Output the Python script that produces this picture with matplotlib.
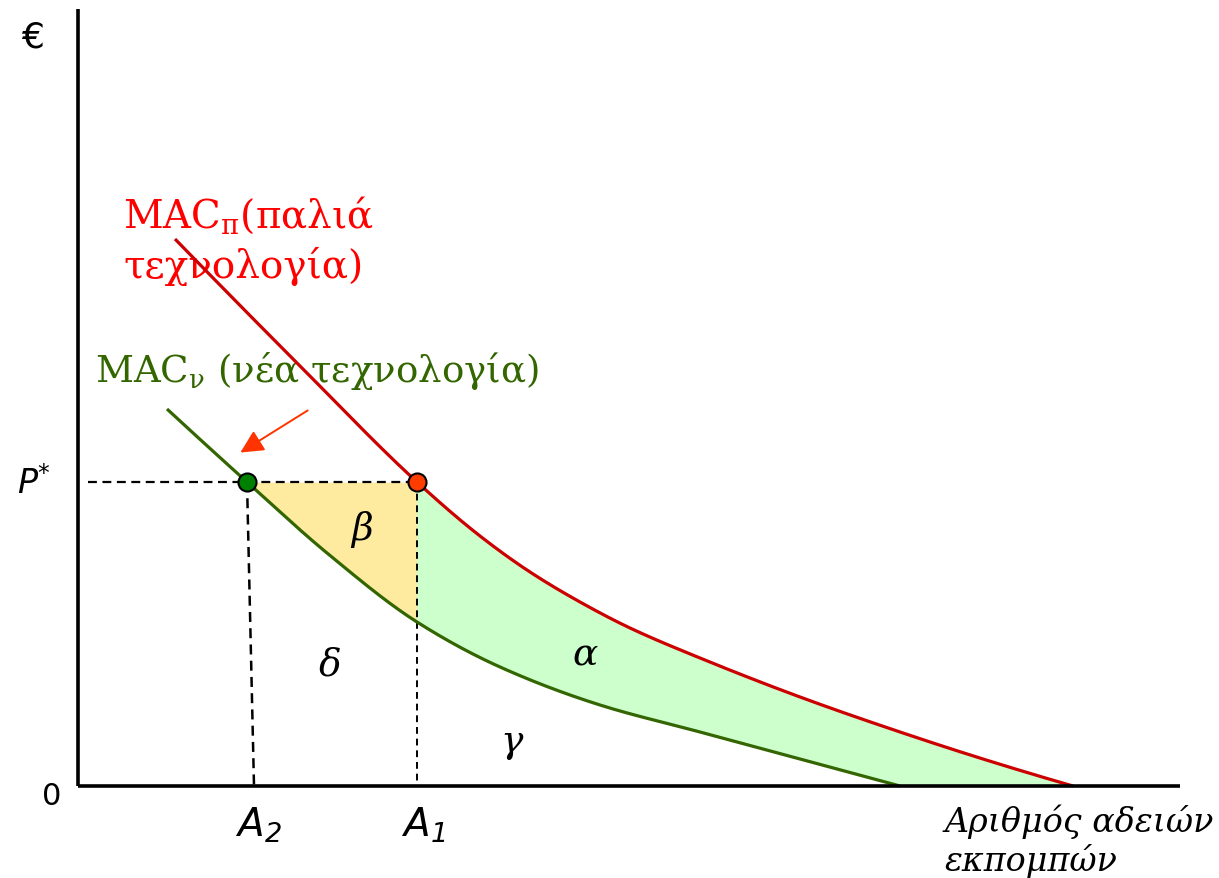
import matplotlib
matplotlib.use("Agg")
import matplotlib.pyplot as plt
import numpy as np
from matplotlib.patches import FancyArrowPatch

# ---- data (abstract units: quantity of permits, price in euros) ----
red_x = [9.7, 22.2, 33.9, 40.2, 45.2, 50.2, 55.2, 62.2, 72.2, 82.2, 90.5, 99.5]
red_y = [54.7, 42.0, 30.4, 25.0, 21.4, 18.4, 15.8, 12.8, 8.9, 5.4, 2.7, 0.0]
green_x = [8.9, 16.9, 24.9, 33.9, 42.2, 52.2, 62.2, 72.2, 82.2]
green_y = [37.7, 30.4, 23.3, 16.4, 11.9, 8.1, 5.4, 2.7, 0.0]
P_star = 30.4
A2 = 16.9
A2_base = 17.6
A1 = 33.9
red_label = ["MAC$_\\mathregular{π}$(παλιά", "τεχνολογία)"]
green_label = "MAC$_\\mathregular{ν}$ (νέα τεχνολογία)"
x_label = ["Αριθμός αδειών", "εκπομπών"]
area_labels = {"β": (28.4, 25.7), "δ": (25.2, 12.2), "α": (50.7, 13.2), "γ": (43.4, 4.5)}

RED = "#CC0000"
GREEN = "#336600"
YELLOW = "#FFEBA0"
LIGHTGREEN = "#CCFFCC"


def smooth(xs, ys, n=30):
    """Monotone cubic (PCHIP) through the read points, for drawing only."""
    x = np.asarray(xs, float)
    y = np.asarray(ys, float)
    h = np.diff(x)
    dl = np.diff(y) / h
    d = np.zeros_like(x)
    for k in range(1, len(x) - 1):
        if dl[k - 1] * dl[k] > 0:
            w1 = 2 * h[k] + h[k - 1]
            w2 = h[k] + 2 * h[k - 1]
            d[k] = (w1 + w2) / (w1 / dl[k - 1] + w2 / dl[k])

    def end(h0, h1, d0, d1):
        v = ((2 * h0 + h1) * d0 - h0 * d1) / (h0 + h1)
        if np.sign(v) != np.sign(d0):
            v = 0.0
        elif np.sign(d0) != np.sign(d1) and abs(v) > abs(3 * d0):
            v = 3 * d0
        return v

    d[0] = end(h[0], h[1], dl[0], dl[1])
    d[-1] = end(h[-1], h[-2], dl[-1], dl[-2])
    ox, oy = [], []
    for k in range(len(x) - 1):
        t = np.linspace(0, 1, n, endpoint=False)
        h00 = 2 * t ** 3 - 3 * t ** 2 + 1
        h10 = t ** 3 - 2 * t ** 2 + t
        h01 = -2 * t ** 3 + 3 * t ** 2
        h11 = t ** 3 - t ** 2
        ox.append(x[k] + t * h[k])
        oy.append(h00 * y[k] + h10 * h[k] * d[k] + h01 * y[k + 1] + h11 * h[k] * d[k + 1])
    ox.append([x[-1]])
    oy.append([y[-1]])
    return np.concatenate(ox), np.concatenate(oy)


rx, ry = smooth(red_x, red_y)
gx, gy = smooth(green_x, green_y)

fig = plt.figure(figsize=(12.19, 8.79), dpi=100)
ax = fig.add_axes([0, 0, 1, 1])
ax.set_xlim(-7.8, 114.1)
ax.set_ylim(-9.2, 78.7)
ax.axis("off")

# fills
m = (gx >= A2 - 1e-9) & (gx <= A1 + 1e-9)
ax.fill_between(gx[m], gy[m], P_star, color=YELLOW, lw=0, zorder=1)

mr = rx >= A1 - 1e-9
mg = gx >= A1 - 1e-9
poly_x = np.concatenate([rx[mr], gx[mg][::-1]])
poly_y = np.concatenate([ry[mr], gy[mg][::-1]])
ax.fill(poly_x, poly_y, color=LIGHTGREEN, lw=0, zorder=1)

# axes lines
ax.plot([0, 0], [0, 77.7], color="black", lw=2.6, solid_capstyle="butt", zorder=5)
ax.plot([0, 110.2], [0, 0], color="black", lw=2.6, solid_capstyle="butt", zorder=5)

# dashed guides
ax.plot([1.0, A1], [P_star, P_star], color="black", lw=1.6, dashes=(4, 2.5), zorder=3)
ax.plot([A2, A2_base], [P_star, 0], color="black", lw=1.8, dashes=(4, 2.5), zorder=3)
ax.plot([A1, A1], [P_star, 0], color="black", lw=1.4, dashes=(3.5, 2.5), zorder=3)

# curves
ax.plot(rx, ry, color=RED, lw=2.3, zorder=4, solid_capstyle="butt")
ax.plot(gx, gy, color=GREEN, lw=2.3, zorder=4, solid_capstyle="butt")

# points
ax.plot([A2], [P_star], "o", ms=13, mfc="#008000", mec="black", mew=1.5, zorder=6)
ax.plot([A1], [P_star], "o", ms=13, mfc="#FF3C00", mec="black", mew=1.5, zorder=6)

# arrow
arr = FancyArrowPatch((23.2, 37.7), (16.0, 33.2), arrowstyle="-|>,head_length=0.7,head_width=0.35",
                      mutation_scale=20, color="#FF3300", lw=1.4, zorder=6)
ax.add_patch(arr)

# texts
serif = "DejaVu Serif"
ax.text(4.5, 55.9, red_label[0], color="#FF0000", fontsize=28, family=serif, va="baseline", ha="left")
ax.text(4.5, 50.9, red_label[1], color="#FF0000", fontsize=28, family=serif, va="baseline", ha="left")
ax.text(1.7, 40.5, green_label, color=GREEN, fontsize=26.7, family=serif, va="baseline", ha="left")

ax.text(-4.5, 74.9, "€", fontsize=26, family="DejaVu Sans", ha="center", va="center")
ax.text(-2.6, -1.0, "0", fontsize=22, family="DejaVu Sans", ha="center", va="center")
ax.text(-6.1, 29.3, "$\\mathregular{P^{*}}$", fontsize=24, family="DejaVu Sans", style="italic",
        ha="left", va="baseline")
ax.text(18.0, -5.0, "$\\mathregular{A_{2}}$", fontsize=28, family="DejaVu Sans", style="italic",
        ha="center", va="baseline")
ax.text(34.5, -5.0, "$\\mathregular{A_{1}}$", fontsize=28, family="DejaVu Sans", style="italic",
        ha="center", va="baseline")
for s, (x, y) in area_labels.items():
    ax.text(x, y, s, fontsize=27, family=serif, style="italic", ha="center", va="center")

ax.text(86.7, -4.5, x_label[0], fontsize=24, family=serif, style="italic", ha="left", va="baseline")
ax.text(86.7, -8.4, x_label[1], fontsize=24, family=serif, style="italic", ha="left", va="baseline")

fig.savefig("out.png", dpi=100)
